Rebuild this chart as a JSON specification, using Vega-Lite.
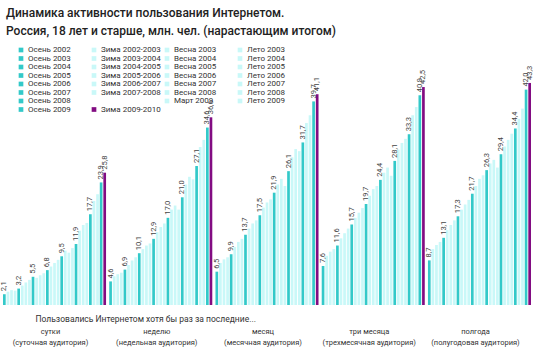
{
  "$schema": "https://vega.github.io/schema/vega-lite/v6.json",
  "width": 528,
  "height": 260,
  "autosize": {"type": "none"},
  "padding": {"left": 3, "top": 45, "right": 2, "bottom": 45},
  "background": "white",
  "title": {
    "text": ["Динамика активности пользования Интернетом.", "Россия, 18 лет и старше, млн. чел. (нарастающим итогом)"],
    "anchor": "start", "frame": "group", "offset": 7, "dx": 3,
    "font": "Roboto", "fontSize": 12, "fontWeight": 500, "color": "#222", "lineHeight": 18
  },
  "config": {
    "view": {"stroke": null},
    "locale": {"number": {"decimal": ",", "thousands": " ", "grouping": [3], "currency": ["", ""]}}
  },
  "data": {"values": [
    {"g":"сутки|(суточная аудитория)","s":"Осень 2002","v":2.1,"k":"o"},
    {"g":"сутки|(суточная аудитория)","s":"Зима 2002-2003","v":2.6,"k":"l"},
    {"g":"сутки|(суточная аудитория)","s":"Весна 2003","v":2.9,"k":"l"},
    {"g":"сутки|(суточная аудитория)","s":"Лето 2003","v":2.8,"k":"l"},
    {"g":"сутки|(суточная аудитория)","s":"Осень 2003","v":3.2,"k":"o"},
    {"g":"сутки|(суточная аудитория)","s":"Зима 2003-2004","v":3.8,"k":"l"},
    {"g":"сутки|(суточная аудитория)","s":"Весна 2004","v":4.4,"k":"l"},
    {"g":"сутки|(суточная аудитория)","s":"Лето 2004","v":4.9,"k":"l"},
    {"g":"сутки|(суточная аудитория)","s":"Осень 2004","v":5.5,"k":"o"},
    {"g":"сутки|(суточная аудитория)","s":"Зима 2004-2005","v":5.3,"k":"l"},
    {"g":"сутки|(суточная аудитория)","s":"Весна 2005","v":5.8,"k":"l"},
    {"g":"сутки|(суточная аудитория)","s":"Лето 2005","v":6.2,"k":"l"},
    {"g":"сутки|(суточная аудитория)","s":"Осень 2005","v":6.8,"k":"o"},
    {"g":"сутки|(суточная аудитория)","s":"Зима 2005-2006","v":7.5,"k":"l"},
    {"g":"сутки|(суточная аудитория)","s":"Весна 2006","v":8.2,"k":"l"},
    {"g":"сутки|(суточная аудитория)","s":"Лето 2006","v":8.8,"k":"l"},
    {"g":"сутки|(суточная аудитория)","s":"Осень 2006","v":9.5,"k":"o"},
    {"g":"сутки|(суточная аудитория)","s":"Зима 2006-2007","v":10.6,"k":"l"},
    {"g":"сутки|(суточная аудитория)","s":"Весна 2007","v":10.2,"k":"l"},
    {"g":"сутки|(суточная аудитория)","s":"Лето 2007","v":11.1,"k":"l"},
    {"g":"сутки|(суточная аудитория)","s":"Осень 2007","v":11.9,"k":"o"},
    {"g":"сутки|(суточная аудитория)","s":"Зима 2007-2008","v":14.5,"k":"l"},
    {"g":"сутки|(суточная аудитория)","s":"Весна 2008","v":15.6,"k":"l"},
    {"g":"сутки|(суточная аудитория)","s":"Лето 2008","v":16.0,"k":"l"},
    {"g":"сутки|(суточная аудитория)","s":"Осень 2008","v":17.7,"k":"o"},
    {"g":"сутки|(суточная аудитория)","s":"Март 2009","v":20.3,"k":"l"},
    {"g":"сутки|(суточная аудитория)","s":"Лето 2009","v":21.6,"k":"l"},
    {"g":"сутки|(суточная аудитория)","s":"Осень 2009","v":23.9,"k":"o"},
    {"g":"сутки|(суточная аудитория)","s":"Зима 2009-2010","v":25.8,"k":"z"},
    {"g":"неделю|(недельная аудитория)","s":"Осень 2002","v":4.6,"k":"o"},
    {"g":"неделю|(недельная аудитория)","s":"Зима 2002-2003","v":5.6,"k":"l"},
    {"g":"неделю|(недельная аудитория)","s":"Весна 2003","v":6.0,"k":"l"},
    {"g":"неделю|(недельная аудитория)","s":"Лето 2003","v":6.3,"k":"l"},
    {"g":"неделю|(недельная аудитория)","s":"Осень 2003","v":6.9,"k":"o"},
    {"g":"неделю|(недельная аудитория)","s":"Зима 2003-2004","v":7.8,"k":"l"},
    {"g":"неделю|(недельная аудитория)","s":"Весна 2004","v":8.7,"k":"l"},
    {"g":"неделю|(недельная аудитория)","s":"Лето 2004","v":9.3,"k":"l"},
    {"g":"неделю|(недельная аудитория)","s":"Осень 2004","v":10.1,"k":"o"},
    {"g":"неделю|(недельная аудитория)","s":"Зима 2004-2005","v":10.9,"k":"l"},
    {"g":"неделю|(недельная аудитория)","s":"Весна 2005","v":11.6,"k":"l"},
    {"g":"неделю|(недельная аудитория)","s":"Лето 2005","v":12.0,"k":"l"},
    {"g":"неделю|(недельная аудитория)","s":"Осень 2005","v":12.9,"k":"o"},
    {"g":"неделю|(недельная аудитория)","s":"Зима 2005-2006","v":14.2,"k":"l"},
    {"g":"неделю|(недельная аудитория)","s":"Весна 2006","v":15.2,"k":"l"},
    {"g":"неделю|(недельная аудитория)","s":"Лето 2006","v":15.9,"k":"l"},
    {"g":"неделю|(недельная аудитория)","s":"Осень 2006","v":17.0,"k":"o"},
    {"g":"неделю|(недельная аудитория)","s":"Зима 2006-2007","v":18.6,"k":"l"},
    {"g":"неделю|(недельная аудитория)","s":"Весна 2007","v":19.4,"k":"l"},
    {"g":"неделю|(недельная аудитория)","s":"Лето 2007","v":18.6,"k":"l"},
    {"g":"неделю|(недельная аудитория)","s":"Осень 2007","v":21.0,"k":"o"},
    {"g":"неделю|(недельная аудитория)","s":"Зима 2007-2008","v":23.5,"k":"l"},
    {"g":"неделю|(недельная аудитория)","s":"Весна 2008","v":25.0,"k":"l"},
    {"g":"неделю|(недельная аудитория)","s":"Лето 2008","v":24.5,"k":"l"},
    {"g":"неделю|(недельная аудитория)","s":"Осень 2008","v":27.1,"k":"o"},
    {"g":"неделю|(недельная аудитория)","s":"Март 2009","v":30.8,"k":"l"},
    {"g":"неделю|(недельная аудитория)","s":"Лето 2009","v":32.2,"k":"l"},
    {"g":"неделю|(недельная аудитория)","s":"Осень 2009","v":34.6,"k":"o"},
    {"g":"неделю|(недельная аудитория)","s":"Зима 2009-2010","v":36.6,"k":"z"},
    {"g":"месяц|(месячная аудитория)","s":"Осень 2002","v":6.5,"k":"o"},
    {"g":"месяц|(месячная аудитория)","s":"Зима 2002-2003","v":8.2,"k":"l"},
    {"g":"месяц|(месячная аудитория)","s":"Весна 2003","v":8.9,"k":"l"},
    {"g":"месяц|(месячная аудитория)","s":"Лето 2003","v":9.3,"k":"l"},
    {"g":"месяц|(месячная аудитория)","s":"Осень 2003","v":9.9,"k":"o"},
    {"g":"месяц|(месячная аудитория)","s":"Зима 2003-2004","v":11.3,"k":"l"},
    {"g":"месяц|(месячная аудитория)","s":"Весна 2004","v":12.3,"k":"l"},
    {"g":"месяц|(месячная аудитория)","s":"Лето 2004","v":12.9,"k":"l"},
    {"g":"месяц|(месячная аудитория)","s":"Осень 2004","v":13.7,"k":"o"},
    {"g":"месяц|(месячная аудитория)","s":"Зима 2004-2005","v":14.9,"k":"l"},
    {"g":"месяц|(месячная аудитория)","s":"Весна 2005","v":15.9,"k":"l"},
    {"g":"месяц|(месячная аудитория)","s":"Лето 2005","v":16.5,"k":"l"},
    {"g":"месяц|(месячная аудитория)","s":"Осень 2005","v":17.5,"k":"o"},
    {"g":"месяц|(месячная аудитория)","s":"Зима 2005-2006","v":19.0,"k":"l"},
    {"g":"месяц|(месячная аудитория)","s":"Весна 2006","v":20.0,"k":"l"},
    {"g":"месяц|(месячная аудитория)","s":"Лето 2006","v":20.6,"k":"l"},
    {"g":"месяц|(месячная аудитория)","s":"Осень 2006","v":21.9,"k":"o"},
    {"g":"месяц|(месячная аудитория)","s":"Зима 2006-2007","v":23.5,"k":"l"},
    {"g":"месяц|(месячная аудитория)","s":"Весна 2007","v":24.6,"k":"l"},
    {"g":"месяц|(месячная аудитория)","s":"Лето 2007","v":23.2,"k":"l"},
    {"g":"месяц|(месячная аудитория)","s":"Осень 2007","v":26.1,"k":"o"},
    {"g":"месяц|(месячная аудитория)","s":"Зима 2007-2008","v":28.8,"k":"l"},
    {"g":"месяц|(месячная аудитория)","s":"Весна 2008","v":30.4,"k":"l"},
    {"g":"месяц|(месячная аудитория)","s":"Лето 2008","v":30.0,"k":"l"},
    {"g":"месяц|(месячная аудитория)","s":"Осень 2008","v":31.7,"k":"o"},
    {"g":"месяц|(месячная аудитория)","s":"Март 2009","v":35.5,"k":"l"},
    {"g":"месяц|(месячная аудитория)","s":"Лето 2009","v":37.0,"k":"l"},
    {"g":"месяц|(месячная аудитория)","s":"Осень 2009","v":39.7,"k":"o"},
    {"g":"месяц|(месячная аудитория)","s":"Зима 2009-2010","v":41.1,"k":"z"},
    {"g":"три месяца|(трехмесячная аудитория)","s":"Осень 2002","v":7.6,"k":"o"},
    {"g":"три месяца|(трехмесячная аудитория)","s":"Зима 2002-2003","v":9.6,"k":"l"},
    {"g":"три месяца|(трехмесячная аудитория)","s":"Весна 2003","v":10.4,"k":"l"},
    {"g":"три месяца|(трехмесячная аудитория)","s":"Лето 2003","v":10.9,"k":"l"},
    {"g":"три месяца|(трехмесячная аудитория)","s":"Осень 2003","v":11.6,"k":"o"},
    {"g":"три месяца|(трехмесячная аудитория)","s":"Зима 2003-2004","v":13.0,"k":"l"},
    {"g":"три месяца|(трехмесячная аудитория)","s":"Весна 2004","v":14.0,"k":"l"},
    {"g":"три месяца|(трехмесячная аудитория)","s":"Лето 2004","v":14.9,"k":"l"},
    {"g":"три месяца|(трехмесячная аудитория)","s":"Осень 2004","v":15.7,"k":"o"},
    {"g":"три месяца|(трехмесячная аудитория)","s":"Зима 2004-2005","v":17.0,"k":"l"},
    {"g":"три месяца|(трехмесячная аудитория)","s":"Весна 2005","v":18.0,"k":"l"},
    {"g":"три месяца|(трехмесячная аудитория)","s":"Лето 2005","v":18.9,"k":"l"},
    {"g":"три месяца|(трехмесячная аудитория)","s":"Осень 2005","v":19.7,"k":"o"},
    {"g":"три месяца|(трехмесячная аудитория)","s":"Зима 2005-2006","v":21.3,"k":"l"},
    {"g":"три месяца|(трехмесячная аудитория)","s":"Весна 2006","v":22.6,"k":"l"},
    {"g":"три месяца|(трехмесячная аудитория)","s":"Лето 2006","v":23.2,"k":"l"},
    {"g":"три месяца|(трехмесячная аудитория)","s":"Осень 2006","v":24.4,"k":"o"},
    {"g":"три месяца|(трехмесячная аудитория)","s":"Зима 2006-2007","v":25.8,"k":"l"},
    {"g":"три месяца|(трехмесячная аудитория)","s":"Весна 2007","v":26.8,"k":"l"},
    {"g":"три месяца|(трехмесячная аудитория)","s":"Лето 2007","v":25.2,"k":"l"},
    {"g":"три месяца|(трехмесячная аудитория)","s":"Осень 2007","v":28.1,"k":"o"},
    {"g":"три месяца|(трехмесячная аудитория)","s":"Зима 2007-2008","v":30.3,"k":"l"},
    {"g":"три месяца|(трехмесячная аудитория)","s":"Весна 2008","v":31.6,"k":"l"},
    {"g":"три месяца|(трехмесячная аудитория)","s":"Лето 2008","v":32.4,"k":"l"},
    {"g":"три месяца|(трехмесячная аудитория)","s":"Осень 2008","v":33.3,"k":"o"},
    {"g":"три месяца|(трехмесячная аудитория)","s":"Март 2009","v":37.0,"k":"l"},
    {"g":"три месяца|(трехмесячная аудитория)","s":"Лето 2009","v":38.6,"k":"l"},
    {"g":"три месяца|(трехмесячная аудитория)","s":"Осень 2009","v":40.9,"k":"o"},
    {"g":"три месяца|(трехмесячная аудитория)","s":"Зима 2009-2010","v":42.5,"k":"z"},
    {"g":"полгода|(полугодовая аудитория)","s":"Осень 2002","v":8.7,"k":"o"},
    {"g":"полгода|(полугодовая аудитория)","s":"Зима 2002-2003","v":10.9,"k":"l"},
    {"g":"полгода|(полугодовая аудитория)","s":"Весна 2003","v":11.7,"k":"l"},
    {"g":"полгода|(полугодовая аудитория)","s":"Лето 2003","v":12.3,"k":"l"},
    {"g":"полгода|(полугодовая аудитория)","s":"Осень 2003","v":13.1,"k":"o"},
    {"g":"полгода|(полугодовая аудитория)","s":"Зима 2003-2004","v":14.6,"k":"l"},
    {"g":"полгода|(полугодовая аудитория)","s":"Весна 2004","v":15.6,"k":"l"},
    {"g":"полгода|(полугодовая аудитория)","s":"Лето 2004","v":16.5,"k":"l"},
    {"g":"полгода|(полугодовая аудитория)","s":"Осень 2004","v":17.3,"k":"o"},
    {"g":"полгода|(полугодовая аудитория)","s":"Зима 2004-2005","v":18.6,"k":"l"},
    {"g":"полгода|(полугодовая аудитория)","s":"Весна 2005","v":19.6,"k":"l"},
    {"g":"полгода|(полугодовая аудитория)","s":"Лето 2005","v":20.5,"k":"l"},
    {"g":"полгода|(полугодовая аудитория)","s":"Осень 2005","v":21.7,"k":"o"},
    {"g":"полгода|(полугодовая аудитория)","s":"Зима 2005-2006","v":23.2,"k":"l"},
    {"g":"полгода|(полугодовая аудитория)","s":"Весна 2006","v":24.6,"k":"l"},
    {"g":"полгода|(полугодовая аудитория)","s":"Лето 2006","v":25.3,"k":"l"},
    {"g":"полгода|(полугодовая аудитория)","s":"Осень 2006","v":26.3,"k":"o"},
    {"g":"полгода|(полугодовая аудитория)","s":"Зима 2006-2007","v":27.6,"k":"l"},
    {"g":"полгода|(полугодовая аудитория)","s":"Весна 2007","v":28.3,"k":"l"},
    {"g":"полгода|(полугодовая аудитория)","s":"Лето 2007","v":26.8,"k":"l"},
    {"g":"полгода|(полугодовая аудитория)","s":"Осень 2007","v":29.4,"k":"o"},
    {"g":"полгода|(полугодовая аудитория)","s":"Зима 2007-2008","v":30.9,"k":"l"},
    {"g":"полгода|(полугодовая аудитория)","s":"Весна 2008","v":32.2,"k":"l"},
    {"g":"полгода|(полугодовая аудитория)","s":"Лето 2008","v":33.4,"k":"l"},
    {"g":"полгода|(полугодовая аудитория)","s":"Осень 2008","v":34.4,"k":"o"},
    {"g":"полгода|(полугодовая аудитория)","s":"Март 2009","v":36.3,"k":"l"},
    {"g":"полгода|(полугодовая аудитория)","s":"Лето 2009","v":38.3,"k":"l"},
    {"g":"полгода|(полугодовая аудитория)","s":"Осень 2009","v":42.0,"k":"o"},
    {"g":"полгода|(полугодовая аудитория)","s":"Зима 2009-2010","v":43.3,"k":"z"}
  ]},
  "encoding": {
    "x": {
      "field": "g", "type": "nominal", "sort": null,
      "scale": {"paddingInner": 0.03, "paddingOuter": 0},
      "axis": {
        "title": "Пользовались Интернетом хотя бы раз за последние...",
        "titleAnchor": "start", "titleX": 32, "titleY": 16, "titleBaseline": "alphabetic",
        "titleFont": "Roboto",
        "titleFontSize": 8.5, "titleFontWeight": "normal", "titleColor": "#333",
        "labelExpr": "split(datum.label, '|')",
        "labelAngle": 0, "labelPadding": 22, "labelBaseline": "top", "labelLineHeight": 11,
        "labelFont": "Roboto",
        "labelFontSize": 7.5, "labelColor": "#333", "labelOffset": -4,
        "domain": false, "ticks": false
      }
    },
    "xOffset": {
      "field": "s", "type": "nominal",
      "scale": {
        "paddingInner": 0.25,
        "domain": ["Осень 2002","Зима 2002-2003","Весна 2003","Лето 2003","Осень 2003","Зима 2003-2004","Весна 2004","Лето 2004","Осень 2004","Зима 2004-2005","Весна 2005","Лето 2005","Осень 2005","Зима 2005-2006","Весна 2006","Лето 2006","Осень 2006","Зима 2006-2007","Весна 2007","Лето 2007","Осень 2007","Зима 2007-2008","Весна 2008","Лето 2008","Осень 2008","Март 2009","Лето 2009","Осень 2009","Зима 2009-2010"]
      }
    },
    "y": {
      "field": "v", "type": "quantitative",
      "scale": {"domain": [0, 50.7], "nice": false},
      "axis": null
    }
  },
  "layer": [
    {
      "mark": {"type": "bar"},
      "encoding": {
        "color": {
          "field": "s", "type": "nominal",
          "scale": {
            "domain": ["Осень 2002","Осень 2003","Осень 2004","Осень 2005","Осень 2006","Осень 2007","Осень 2008","Осень 2009","Зима 2002-2003","Зима 2003-2004","Зима 2004-2005","Зима 2005-2006","Зима 2006-2007","Зима 2007-2008"," ","Зима 2009-2010","Весна 2003","Весна 2004","Весна 2005","Весна 2006","Весна 2007","Весна 2008","Март 2009","  ","Лето 2003","Лето 2004","Лето 2005","Лето 2006","Лето 2007","Лето 2008","Лето 2009","   "],
            "range": ["#33c9c9","#33c9c9","#33c9c9","#33c9c9","#33c9c9","#33c9c9","#33c9c9","#33c9c9","#c9f8f8","#c9f8f8","#c9f8f8","#c9f8f8","#c9f8f8","#c9f8f8","#ffffff","#820c82","#c9f8f8","#c9f8f8","#c9f8f8","#c9f8f8","#c9f8f8","#c9f8f8","#c9f8f8","#ffffff","#c9f8f8","#c9f8f8","#c9f8f8","#c9f8f8","#c9f8f8","#c9f8f8","#c9f8f8","#ffffff"]
          },
          "legend": {
            "orient": "none", "legendX": 14, "legendY": 1,
            "title": null, "columns": 4, "gridAlign": "all", "symbolLimit": 40,
            "symbolType": "square", "symbolSize": 22, "symbolStrokeWidth": 0,
            "labelFont": "Roboto",
            "labelFontSize": 8, "labelColor": "#333", "labelOffset": 3,
            "rowPadding": 0.5, "columnPadding": 2, "padding": 0
          }
        }
      }
    },
    {
      "transform": [{"filter": "datum.k != 'l'"}],
      "mark": {"type": "text", "angle": 270, "align": "left", "baseline": "middle", "dx": 3,
               "fontSize": 7.5, "color": "#444", "font": "Roboto"},
      "encoding": {
        "text": {"field": "v", "type": "quantitative", "format": ".1f"}
      }
    }
  ]
}
